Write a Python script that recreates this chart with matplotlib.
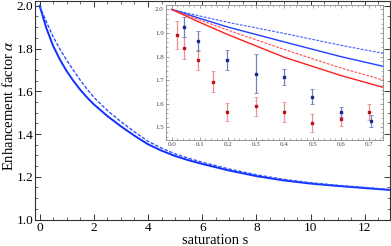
import matplotlib
matplotlib.use("Agg")
import matplotlib.pyplot as plt
from matplotlib.ticker import MultipleLocator

plt.rcParams['font.family'] = ['Liberation Serif', 'DejaVu Serif']
plt.rcParams['mathtext.fontset'] = 'stix'

# main curves
s_vals = [0, 0.25, 0.5, 0.75, 1.0, 1.25, 1.5, 1.75, 2.0, 2.5, 3.0, 3.5, 4.0,
          4.5, 5.0, 5.5, 6.0, 7.0, 8.0, 9.0, 10.0, 11.0, 12.0, 12.95]
alpha_solid = [2.0, 1.895, 1.812, 1.748, 1.694, 1.648, 1.607, 1.571, 1.539,
               1.484, 1.436, 1.392, 1.352, 1.322, 1.297, 1.277, 1.26, 1.229,
               1.203, 1.183, 1.168, 1.157, 1.147, 1.138]
alpha_dashed = [2.0, 1.925, 1.855, 1.797, 1.745, 1.697, 1.652, 1.61, 1.572,
                1.51, 1.458, 1.41, 1.366, 1.334, 1.307, 1.286, 1.268, 1.236,
                1.209, 1.188, 1.172, 1.16, 1.15, 1.14]

# inset curves
x_in = [0, 0.1, 0.2, 0.4, 0.6, 0.75]
blue_dashed = [2.0, 1.972, 1.945, 1.898, 1.848, 1.814]
blue_solid = [2.0, 1.962, 1.925, 1.862, 1.800, 1.759]
red_dashed = [2.0, 1.955, 1.912, 1.830, 1.752, 1.701]
red_solid = [2.0, 1.945, 1.893, 1.797, 1.720, 1.670]

# inset data points
red_x = [0.02, 0.045, 0.095, 0.145, 0.195, 0.298, 0.398, 0.498, 0.60, 0.70]
red_y = [1.892, 1.836, 1.786, 1.694, 1.566, 1.589, 1.566, 1.518, 1.535, 1.566]
red_err = [0.058, 0.046, 0.042, 0.045, 0.037, 0.042, 0.042, 0.037, 0.028, 0.035]
blue_x = [0.045, 0.095, 0.195, 0.298, 0.398, 0.498, 0.60, 0.707]
blue_y = [1.925, 1.865, 1.785, 1.728, 1.714, 1.631, 1.566, 1.528]
blue_err = [0.043, 0.042, 0.042, 0.083, 0.033, 0.03, 0.022, 0.026]

fig = plt.figure(figsize=(3.91, 2.46), dpi=100)
ax = fig.add_axes([0.0895, 0.1077, 0.908, 0.888])

ax.plot(s_vals, alpha_solid, color='#1030ff', lw=1.4)
ax.plot(s_vals, alpha_dashed, color='#3050ff', lw=1.0, ls=(0, (2.5, 1.2)))
ax.set_xlim(-0.17, 12.93)
ax.set_ylim(1.0, 2.022)
ax.xaxis.set_major_locator(MultipleLocator(2))
ax.xaxis.set_minor_locator(MultipleLocator(0.5))
ax.yaxis.set_major_locator(MultipleLocator(0.2))
ax.yaxis.set_minor_locator(MultipleLocator(0.05))
ax.tick_params(which='both', direction='in', top=True, right=True,
               labelsize=9.5, colors='#333333', labelcolor='black', pad=1.2)
ax.tick_params(axis='x', pad=2)
ax.tick_params(which='major', length=4, width=0.7)
ax.tick_params(which='minor', length=2, width=0.5)
for sp in ax.spines.values():
    sp.set_color('#333333')
    sp.set_linewidth(0.8)
ax.set_xlabel('saturation s', fontsize=10.5)
ax.xaxis.set_label_coords(0.506, -0.066)
ax.set_ylabel(r'Enhancement factor $\alpha$', fontsize=10.5)
ax.yaxis.set_label_coords(-0.0535, 0.523)

ins = fig.add_axes([0.4246, 0.431, 0.556, 0.549])
ins.plot(x_in, blue_dashed, color='#4060ff', lw=0.8, ls=(0, (2.5, 1.2)))
ins.plot(x_in, blue_solid, color='#2040ff', lw=1.0)
ins.plot(x_in, red_dashed, color='#ff5050', lw=0.8, ls=(0, (2.5, 1.2)))
ins.plot(x_in, red_solid, color='#ff2020', lw=1.0)
ins.errorbar(red_x, red_y, yerr=red_err, fmt='s', ms=2, color='#c01010',
             ecolor='#e89090', elinewidth=0.9, capsize=1.3, capthick=0.6)
ins.errorbar(blue_x, blue_y, yerr=blue_err, fmt='s', ms=2, color='#1a2a8a',
             ecolor='#7080c0', elinewidth=0.9, capsize=1.3, capthick=0.6)
ins.set_xlim(-0.02, 0.751)
ins.set_ylim(1.447, 2.019)
ins.xaxis.set_major_locator(MultipleLocator(0.1))
ins.xaxis.set_minor_locator(MultipleLocator(0.02))
ins.yaxis.set_major_locator(MultipleLocator(0.1))
ins.yaxis.set_minor_locator(MultipleLocator(0.02))
ins.tick_params(which='both', direction='in', top=True, right=True,
                labelsize=5, colors='#777777', labelcolor='#444444', pad=1.5)
ins.tick_params(which='major', length=2.5, width=0.5)
ins.tick_params(which='minor', length=1.3, width=0.4)
for sp in ins.spines.values():
    sp.set_color('#888888')
    sp.set_linewidth(0.6)

fig.savefig('out.png', dpi=100)
